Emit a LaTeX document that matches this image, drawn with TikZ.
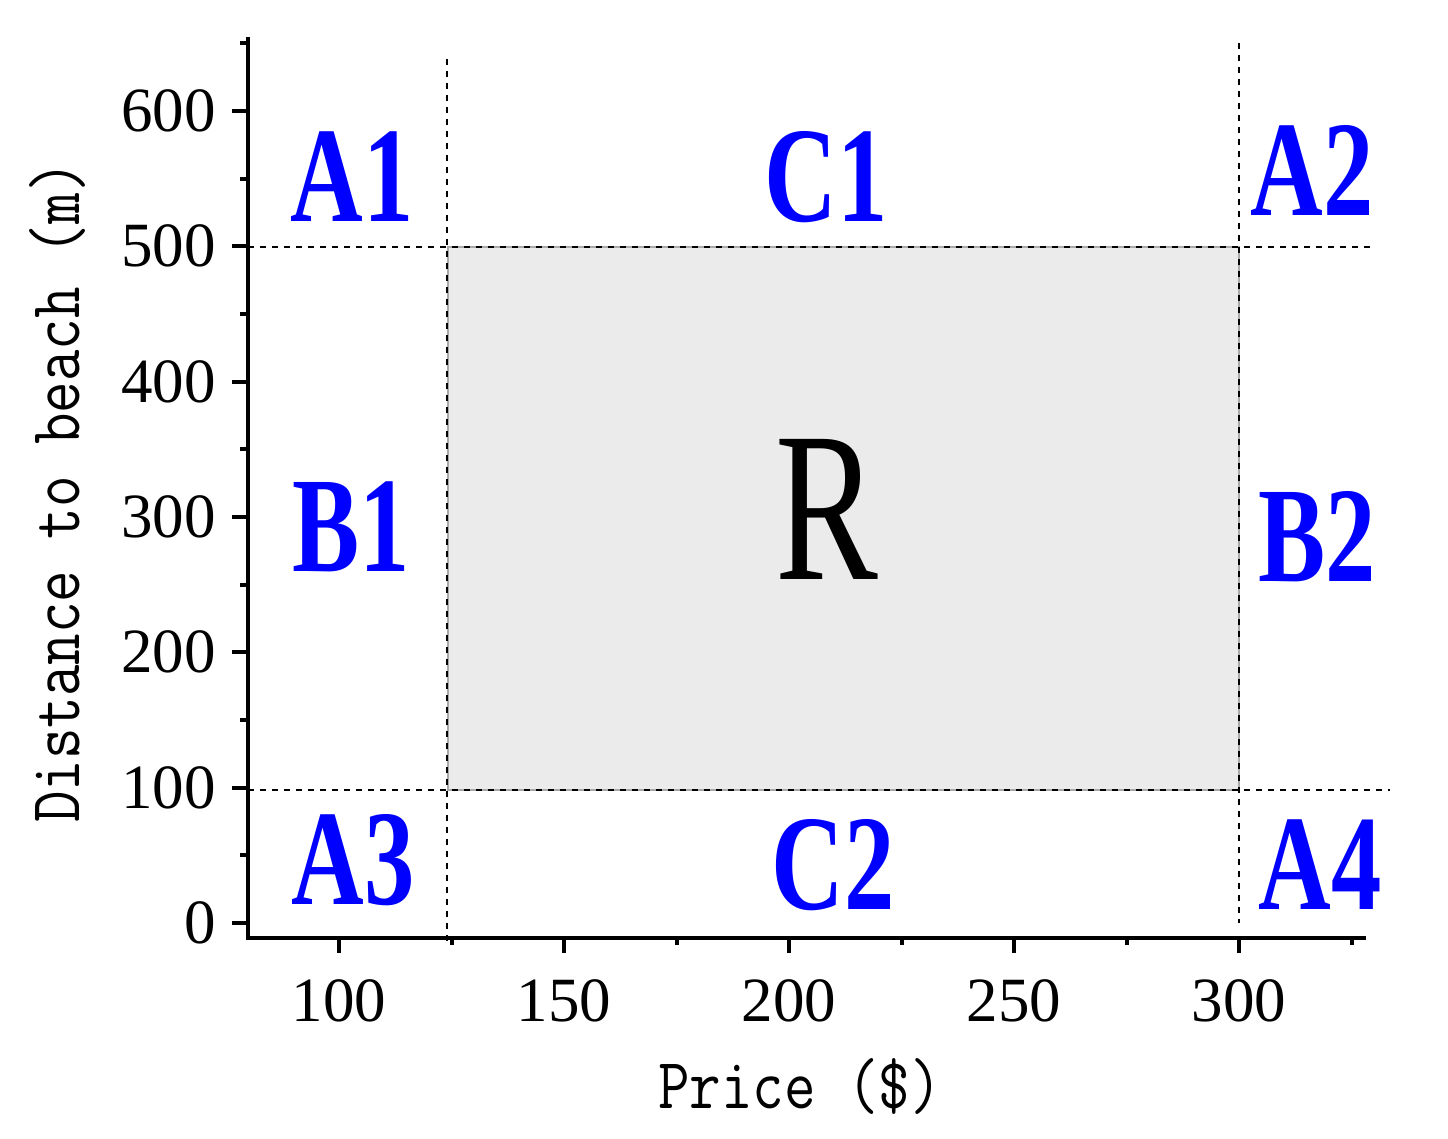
\documentclass[tikz,border=0pt]{standalone}
\usepackage{graphicx}
\usepackage{fontspec}
\setmainfont{Liberation Serif}
\begin{document}
\begin{tikzpicture}[x=0.5pt,y=-0.5pt,
  axisline/.style={line width=2pt},
  guide/.style={line width=0.7pt, dash pattern=on 3pt off 3pt},
  region/.style={text=blue, inner sep=0pt, font=\fontsize{68}{68}\selectfont\bfseries},
  ticklab/.style={inner sep=0pt, font=\fontsize{31.5}{31.5}\selectfont},
  axtitle/.style={inner sep=0pt, font=\fontsize{36}{36}\selectfont\ttfamily}
]
\useasboundingbox (0,0) rectangle (1448,1139);
% shaded region
\fill[fill={rgb,255:red,235;green,235;blue,235}, draw={rgb,255:red,170;green,170;blue,170}, line width=0.6pt] (448,247) rectangle (1239,790);
% guides
\draw[guide] (447,59) -- (447,945);
\draw[guide] (1239,43) -- (1239,923);
\draw[guide] (248,247) -- (1370,247);
\draw[guide] (248,790) -- (1390,790);
% axes
\draw[axisline] (248,37) -- (248,938) -- (1366,938);
% y ticks
\foreach \v in {0,100,...,600} {
  \pgfmathsetmacro{\yy}{923-\v*1.35333}
  \draw[line width=2pt] (232,\yy) -- (248,\yy);
  \node[ticklab, anchor=east] (yl\v) at (216,\yy) {\v};
}
\foreach \v in {50,150,...,650} {
  \pgfmathsetmacro{\yy}{923-\v*1.35333}
  \draw[line width=2pt] (240,\yy) -- (248,\yy);
}
% x ticks
\foreach \v in {100,150,...,300} {
  \pgfmathsetmacro{\xx}{339+(\v-100)*4.5}
  \draw[line width=2pt] (\xx,937) -- (\xx,953);
  \node[ticklab] (xl\v) at (\xx,1001) {\v};
}
\foreach \v in {125,175,...,325} {
  \pgfmathsetmacro{\xx}{339+(\v-100)*4.5}
  \draw[line width=2pt] (\xx,937) -- (\xx,945);
}
% axis titles
\node[axtitle] (xt) at (800,1087) {\scalebox{0.85}[1]{Price (\$)}};
\node[axtitle, rotate=90] (yt) at (58,492) {\scalebox{0.85}[1]{Distance to beach (m)}};
% region labels
\node[region] (A1) at (352,177) {\scalebox{0.74}[1]{A1}};
\node[region] (C1) at (826,177) {\scalebox{0.74}[1]{C1}};
\node[region] (A2) at (1312,170) {\scalebox{0.74}[1]{A2}};
\node[region] (B1) at (351,527) {\scalebox{0.74}[1]{B1}};
\node[region] (B2) at (1317,537) {\scalebox{0.74}[1]{B2}};
\node[region] (A3) at (353,860) {\scalebox{0.74}[1]{A3}};
\node[region] (C2) at (833,865) {\scalebox{0.74}[1]{C2}};
\node[region] (A4) at (1320,865) {\scalebox{0.74}[1]{A4}};
\node[inner sep=0pt, font=\fontsize{107}{107}\selectfont] (R) at (827,509) {\scalebox{0.72}[1]{R}};
\end{tikzpicture}
\end{document}
